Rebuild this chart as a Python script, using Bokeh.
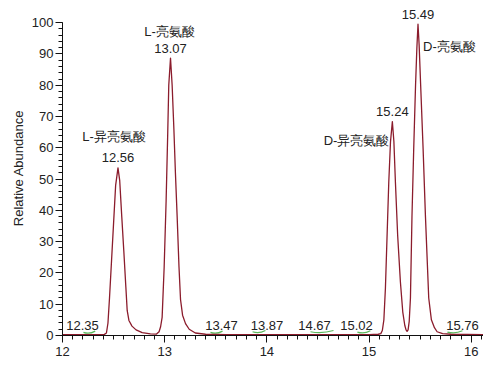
from bokeh.plotting import figure
from bokeh.models import Range1d, SingleIntervalTicker, Title
from bokeh.core.properties import value
from bokeh.embed import file_html
from bokeh.resources import INLINE

# ---- data ----
rt = [12.00, 12.30, 12.41, 12.43, 12.445, 12.46, 12.48, 12.50, 12.52, 12.543, 12.56, 12.58,
      12.60, 12.62, 12.633, 12.65, 12.68, 12.72, 12.78, 12.86, 12.92, 12.945, 12.96, 12.975,
      12.995, 13.014, 13.03, 13.04, 13.057, 13.073, 13.09, 13.105, 13.122, 13.14,
      13.155, 13.175, 13.204, 13.24, 13.30, 13.40, 13.60, 14.00, 14.50, 15.00, 15.09,
      15.115, 15.13, 15.145, 15.16, 15.193, 15.21, 15.228, 15.243, 15.258, 15.28, 15.307,
      15.33, 15.35, 15.362, 15.372, 15.382, 15.393, 15.405, 15.42, 15.437, 15.455, 15.468,
      15.479, 15.49, 15.505, 15.529, 15.552, 15.584, 15.61, 15.64, 15.666, 15.72, 15.80, 16.12]
abundance = [0.3, 0.3, 0.35, 0.8, 4, 12, 24, 36, 48, 53.6, 49.5, 38,
             27, 15.5, 8, 4.8, 3, 1.8, 0.9, 0.5, 0.45, 1.2, 2.8, 5.8,
             22, 43, 65, 80, 88.7, 80, 66, 52, 38, 22,
             11.5, 6.5, 3.8, 2.0, 0.8, 0.4, 0.3, 0.3, 0.3, 0.3, 0.4,
             0.6, 1.6, 5, 15, 49, 62, 68.4, 62, 49, 32, 17,
             7.5, 3.2, 1.8, 1.3, 1.8, 4.5, 12, 38, 59.6, 80, 92,
             99.5, 93, 80, 59.6, 38, 12, 5, 2.5, 1.2, 0.6, 0.4, 0.3]

peak_rt = [12.543, 13.057, 15.228, 15.479]
peak_abund = [53.6, 88.7, 68.4, 99.5]
peak_rt_labels = ["12.56", "13.07", "15.24", "15.49"]
peak_names = ["L-异亮氨酸", "L-亮氨酸", "D-异亮氨酸", "D-亮氨酸"]

minor_labels = ["12.35", "13.47", "13.87", "14.67", "15.02", "15.76"]
minor_start = [12.205, 13.448, 13.860, 14.427, 14.886, 15.767]
minor_end = [12.320, 13.566, 13.986, 14.652, 15.013, 15.914]
minor_level = [1.0, 1.0, 1.2, 1.2, 1.1, 1.1]

y_title = "Relative Abundance"

# ---- layout only ----
minor_label_x = [12.196, 13.556, 14.001, 14.466, 14.877, 15.914]
minor_label_y = 3.1
name_dx = [-4, -1, -3, 5]
name_dy = [-31, -27, 19, 22]
name_align = ["center", "center", "right", "left"]

FONT = value("Liberation Sans")
TXT = "#222222"

p = figure(width=483, height=365, output_backend="svg", toolbar_location=None,
           x_range=Range1d(12, 16.12), y_range=Range1d(0, 107.1),
           min_border_left=62, min_border_right=0, min_border_top=0,
           min_border_bottom=30)
p.outline_line_color = None
p.grid.visible = False
p.background_fill_color = "white"
p.border_fill_color = "white"

# minor peak integration marks (green)
for s, e, lv in zip(minor_start, minor_end, minor_level):
    p.quadratic(x0=[s], y0=[lv], x1=[e], y1=[lv + 0.4], cx=[(s + e) / 2], cy=[lv - 0.7],
                line_color="#5cb85c", line_width=1.2)

# trace
p.line(rt, abundance, line_color="#8b1c2c", line_width=1.3, line_join="round")

# peak labels
for t, a, lab, nm, dx, dy, al in zip(peak_rt, peak_abund, peak_rt_labels, peak_names,
                                     name_dx, name_dy, name_align):
    p.text(x=[t], y=[a], text=[lab], text_font=FONT, text_font_size="13px",
           text_color=TXT, text_align="center", text_baseline="middle", y_offset=-10)
    p.text(x=[t], y=[a], text=[nm], text_font=FONT, text_font_size="13px",
           text_color=TXT, text_align=al, text_baseline="middle",
           x_offset=dx, y_offset=dy)

p.text(x=minor_label_x, y=[minor_label_y] * len(minor_label_x), text=minor_labels,
       text_font=FONT, text_font_size="13px", text_color=TXT,
       text_align="center", text_baseline="middle")

# axes
p.xaxis.ticker = SingleIntervalTicker(interval=1, num_minor_ticks=10)
p.yaxis.ticker = SingleIntervalTicker(interval=10, num_minor_ticks=5)
p.yaxis.bounds = (0, 100)
for ax in (p.xaxis, p.yaxis):
    ax.axis_line_color = "#111111"
    ax.major_tick_line_color = "#111111"
    ax.minor_tick_line_color = "#111111"
    ax.major_tick_in = 0
    ax.minor_tick_in = 0
    ax.major_tick_out = 7
    ax.minor_tick_out = 4
    ax.major_label_text_font = "Liberation Sans"
    ax.major_label_text_font_size = "13px"
    ax.major_label_text_color = TXT
p.xaxis.major_label_standoff = 4
p.yaxis.major_label_standoff = 2

# y-axis title as a left-side title so that it can be shifted along the axis
p.add_layout(Title(text=y_title, align="center", offset=16, standoff=6,
                   text_font="Liberation Sans", text_font_size="13px",
                   text_font_style="normal", text_color=TXT), "left")

open("out.html", "w").write(file_html(p, INLINE))
